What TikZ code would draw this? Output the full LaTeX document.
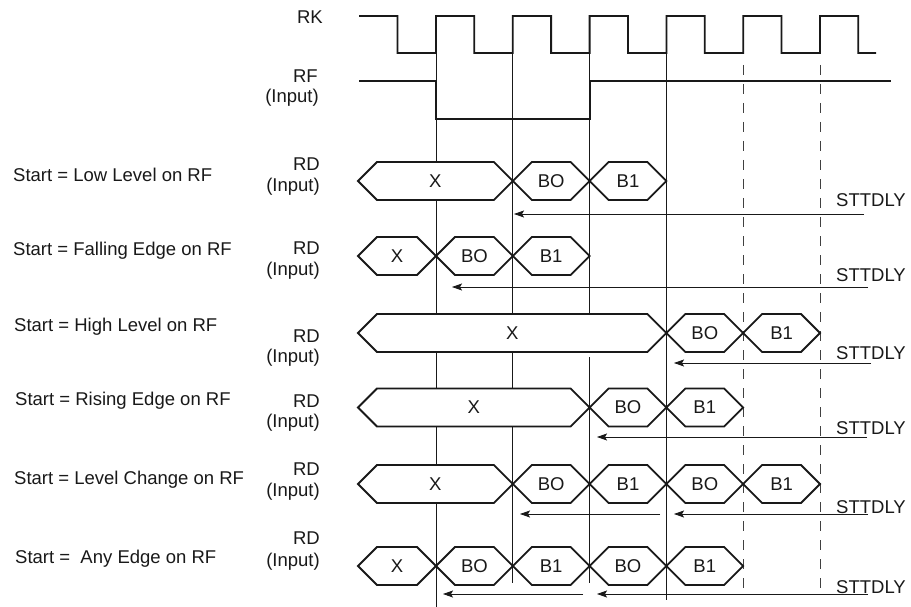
\documentclass[tikz,border=0pt]{standalone}
\usepackage{fontspec}
\setmainfont{Liberation Sans}
\usetikzlibrary{arrows.meta}

% one bus segment of RD: name, left x, right x, middle y, text
\newcommand{\busseg}[5]{%
  \draw[bus] (#2,#4) -- (#2+19,#4-19) -- (#3-19,#4-19) -- (#3,#4)
    -- (#3-19,#4+19) -- (#2+19,#4+19) -- cycle;
  \node[txt] (#1) at ({(#2+#3)/2},#4) {#5};
}

\begin{document}
\begin{tikzpicture}[x=1pt, y=-1pt,
    txt/.style={font=\fontsize{18.5}{22}\selectfont, text=black!90, inner sep=0pt},
    wave/.style={black!90, line width=1.8pt},
    bus/.style={black!90, line width=1.8pt, fill=white},
    mark line/.style={black!90, line width=0.8pt},
    mark dash/.style={black!75, line width=0.8pt, dash pattern=on 10pt off 9pt},
    sttarrow/.style={black!90, line width=0.8pt, -{Stealth[length=10pt, width=7pt, inset=2pt]}}]

\fill[white] (0,0) rectangle (911,607);
\useasboundingbox (0,0) rectangle (911,607);

% Signal names
\node[txt, anchor=east] (rk) at (323,17) {RK};
\node[txt, anchor=east] (rf) at (318,76) {RF};
\node[txt, anchor=east] (rfin) at (319,98) {(Input)};

% Marker lines on the clock edges
\draw[mark line] (436,53) -- (436,607);
\draw[mark line] (512.8,53) -- (512.8,583);
\draw[mark line] (589.6,53) -- (589.6,314);
\draw[mark line] (589.6,357) -- (589.6,583);
\draw[mark line] (666.4,53) -- (666.4,600);
\draw[mark dash] (743.2,65) -- (743.2,592);
\draw[mark dash] (820,65) -- (820,592);

% RK clock
\draw[wave] (359,16) -- (397.5,16)
  \foreach \k in {0,...,5} {
    -- (397.5+76.8*\k,53) -- (436+76.8*\k,53) -- (436+76.8*\k,16) -- (474.3+76.8*\k,16)
  }
  -- (858.3,53) -- (876,53);

% RF input
\draw[wave] (359,81) -- (436,81) -- (436,119) -- (589.6,119) -- (589.6,81) -- (891,81);

% Start conditions
\foreach \r/\xs/\ys/\txt in {1/13/175/{Start = Low Level on RF},
    2/13/251/{Start = Falling Edge on RF},
    3/14/327/{Start = High Level on RF},
    4/15/401/{Start = Rising Edge on RF},
    5/14/480/{Start = Level Change on RF},
    6/15/559/{Start = \ Any Edge on RF}} {
  \node[txt, anchor=west] (start\r) at (\xs,\ys) {\txt};
}

% RD (Input) labels
\foreach \r/\yd/\yi in {1/164/187, 2/248/271, 3/336/358, 4/401/423, 5/469/492, 6/538/562} {
  \node[txt, anchor=east] (rd\r) at (320,\yd) {RD};
  \node[txt, anchor=east] (rdin\r) at (320,\yi) {(Input)};
}

% Row 1: low level
\busseg{xa}{358}{512.8}{181}{X}
\busseg{boa}{512.8}{589.6}{181}{BO}
\busseg{bia}{589.6}{666.4}{181}{B1}

% Row 2: falling edge
\busseg{xb}{358}{436}{256}{X}
\busseg{bob}{436}{512.8}{256}{BO}
\busseg{bib}{512.8}{589.6}{256}{B1}

% Row 3: high level
\busseg{xc}{358}{666.4}{333}{X}
\busseg{boc}{666.4}{743.2}{333}{BO}
\busseg{bic}{743.2}{820}{333}{B1}

% Row 4: rising edge
\busseg{xd}{358}{589.6}{407.5}{X}
\busseg{bod}{589.6}{666.4}{407.5}{BO}
\busseg{bid}{666.4}{743.2}{407.5}{B1}

% Row 5: level change
\busseg{xe}{358}{512.8}{484}{X}
\busseg{boe}{512.8}{589.6}{484}{BO}
\busseg{bie}{589.6}{666.4}{484}{B1}
\busseg{boee}{666.4}{743.2}{484}{BO}
\busseg{biee}{743.2}{820}{484}{B1}

% Row 6: any edge
\busseg{xf}{358}{436}{566}{X}
\busseg{bof}{436}{512.8}{566}{BO}
\busseg{bif}{512.8}{589.6}{566}{B1}
\busseg{boff}{589.6}{666.4}{566}{BO}
\busseg{biff}{666.4}{743.2}{566}{B1}

% STTDLY delays
\foreach \r/\y in {1/200, 2/275, 3/353, 4/428, 5/507, 6/587} {
  \node[txt, anchor=west] (stt\r) at (836,\y) {STTDLY};
}
\draw[sttarrow] (864,214) -- (514,214);
\draw[sttarrow] (868,287) -- (452,287);
\draw[sttarrow] (871,363) -- (674,363);
\draw[sttarrow] (867,437) -- (597,437);
\draw[sttarrow] (660,514) -- (520,514);
\draw[sttarrow] (868,514) -- (674,514);
\draw[sttarrow] (583,594) -- (443,594);
\draw[sttarrow] (868,594) -- (597,594);

\end{tikzpicture}
\end{document}
